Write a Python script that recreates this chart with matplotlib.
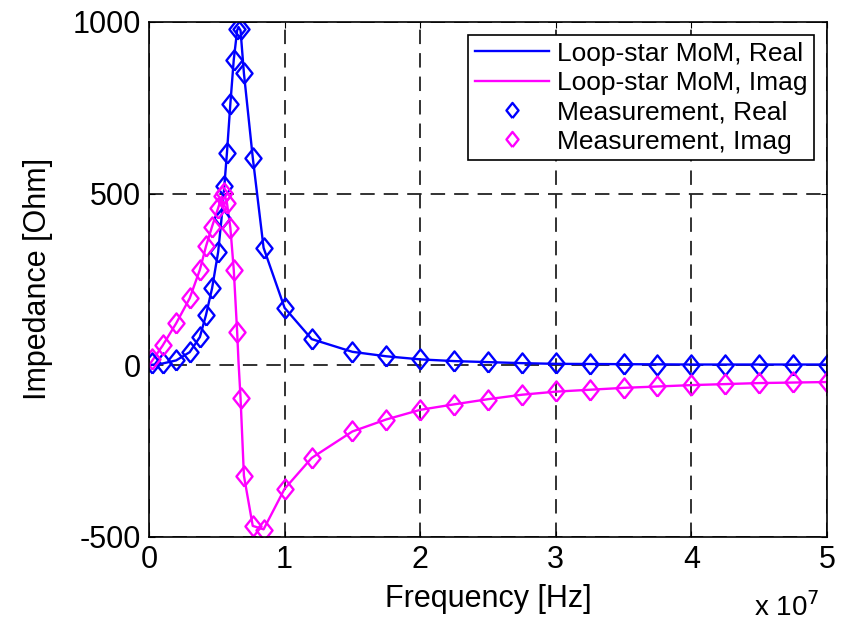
import matplotlib
matplotlib.use("Agg")
import matplotlib.pyplot as plt

plt.rcParams['font.family'] = ['Liberation Sans', 'DejaVu Sans']
plt.rcParams['axes.unicode_minus'] = False

# ---------- data (frequency in units of 1e7 Hz) ----------
meas_freq = [0.02, 0.1, 0.2, 0.3, 0.375, 0.42, 0.465, 0.51, 0.535, 0.555,
             0.575, 0.6, 0.625, 0.65, 0.675, 0.7, 0.765, 0.845, 1.0, 1.2,
             1.5, 1.75, 2.0, 2.25, 2.5, 2.75, 3.0, 3.25, 3.5, 3.75,
             4.0, 4.25, 4.5, 4.75, 5.0]
meas_real = [5, 5, 15, 39, 83, 147, 224, 331, 429, 521,
             619, 761, 888, 980, 980, 851, 604, 341, 166, 75,
             39, 26, 17, 12, 10, 7, 5, 4, 3, 2,
             2, 2, 2, 2, 2]
meas_imag = [19, 58, 122, 195, 278, 346, 404, 458, 492, 502,
             473, 400, 278, 97, -95, -322, -468, -480, -361, -271,
             -193, -159, -130, -115, -100, -86, -76, -71, -66, -62,
             -58, -55, -53, -50, -49]

mom_freq = [0, 0.1, 0.2, 0.3, 0.375, 0.42, 0.465, 0.51, 0.535, 0.555,
            0.575, 0.6, 0.625, 0.65, 0.66, 0.675, 0.7, 0.765, 0.845, 1.0,
            1.2, 1.5, 1.75, 2.0, 2.25, 2.5, 2.75, 3.0, 3.5, 4.0, 4.5, 5.0]
mom_real = [0, 5, 14, 38, 82, 146, 224, 330, 428, 520,
            620, 762, 890, 975, 985, 975, 850, 605, 342, 167,
            76, 39, 26, 17, 12, 9, 6, 4, 3, 2, 2, 2]
mom_imag = [0, 57, 122, 195, 278, 346, 404, 458, 490, 500,
            472, 400, 278, 97, 10, -95, -322, -468, -478, -360,
            -270, -193, -158, -130, -114, -99, -86, -77, -66, -58, -52, -49]

x_ticks = [0, 1, 2, 3, 4, 5]
y_ticks = [-500, 0, 500, 1000]

BLUE = (0, 0, 1)
MAGENTA = (1, 0, 1)

# matlab-like diamond, a bit taller than wide
DIAMOND = [(0, -1), (0.8, 0), (0, 1), (-0.8, 0), (0, -1)]

# ---------- plot ----------
fig = plt.figure(figsize=(8.42, 6.25), dpi=100)
ax = fig.add_axes([0.177, 0.141, 0.805, 0.824])

ax.plot(mom_freq, mom_real, color=BLUE, lw=1.7, label="Loop-star MoM, Real")
ax.plot(mom_freq, mom_imag, color=MAGENTA, lw=1.7, label="Loop-star MoM, Imag")
ax.plot(meas_freq, meas_real, ls='none', marker=DIAMOND, ms=14.5, mfc='none',
        mec=BLUE, mew=1.7, label="Measurement, Real")
ax.plot(meas_freq, meas_imag, ls='none', marker=DIAMOND, ms=14.5, mfc='none',
        mec=MAGENTA, mew=1.7, label="Measurement, Imag")

ax.set_xlim(0, 5)
ax.set_ylim(-500, 1000)
ax.set_xticks(x_ticks)
ax.set_yticks(y_ticks)
ax.set_xticklabels([str(t) for t in x_ticks])
ax.tick_params(direction='in', length=4, width=0.8, labelsize=22, pad=6,
               top=True, right=True)
ax.grid(True, color='#222222', ls=(0, (8, 5)), lw=1.3)

for s in ax.spines.values():
    s.set_linewidth(1.2)

ax.set_xlabel("Frequency [Hz]", fontsize=22, labelpad=6)
ax.set_ylabel("Impedance [Ohm]", fontsize=22, labelpad=14)
fig.text(0.895, 0.005, r"x 10$^7$", fontsize=20, ha='left', va='bottom')

leg = ax.legend(loc='upper right', fontsize=19, frameon=True, fancybox=False,
                edgecolor='k', framealpha=1, handlelength=2.8,
                borderpad=0.25, labelspacing=0.2, handletextpad=0.3,
                borderaxespad=0.5, markerscale=0.75)
leg.get_frame().set_linewidth(1.2)

fig.savefig("out.png", dpi=100)
